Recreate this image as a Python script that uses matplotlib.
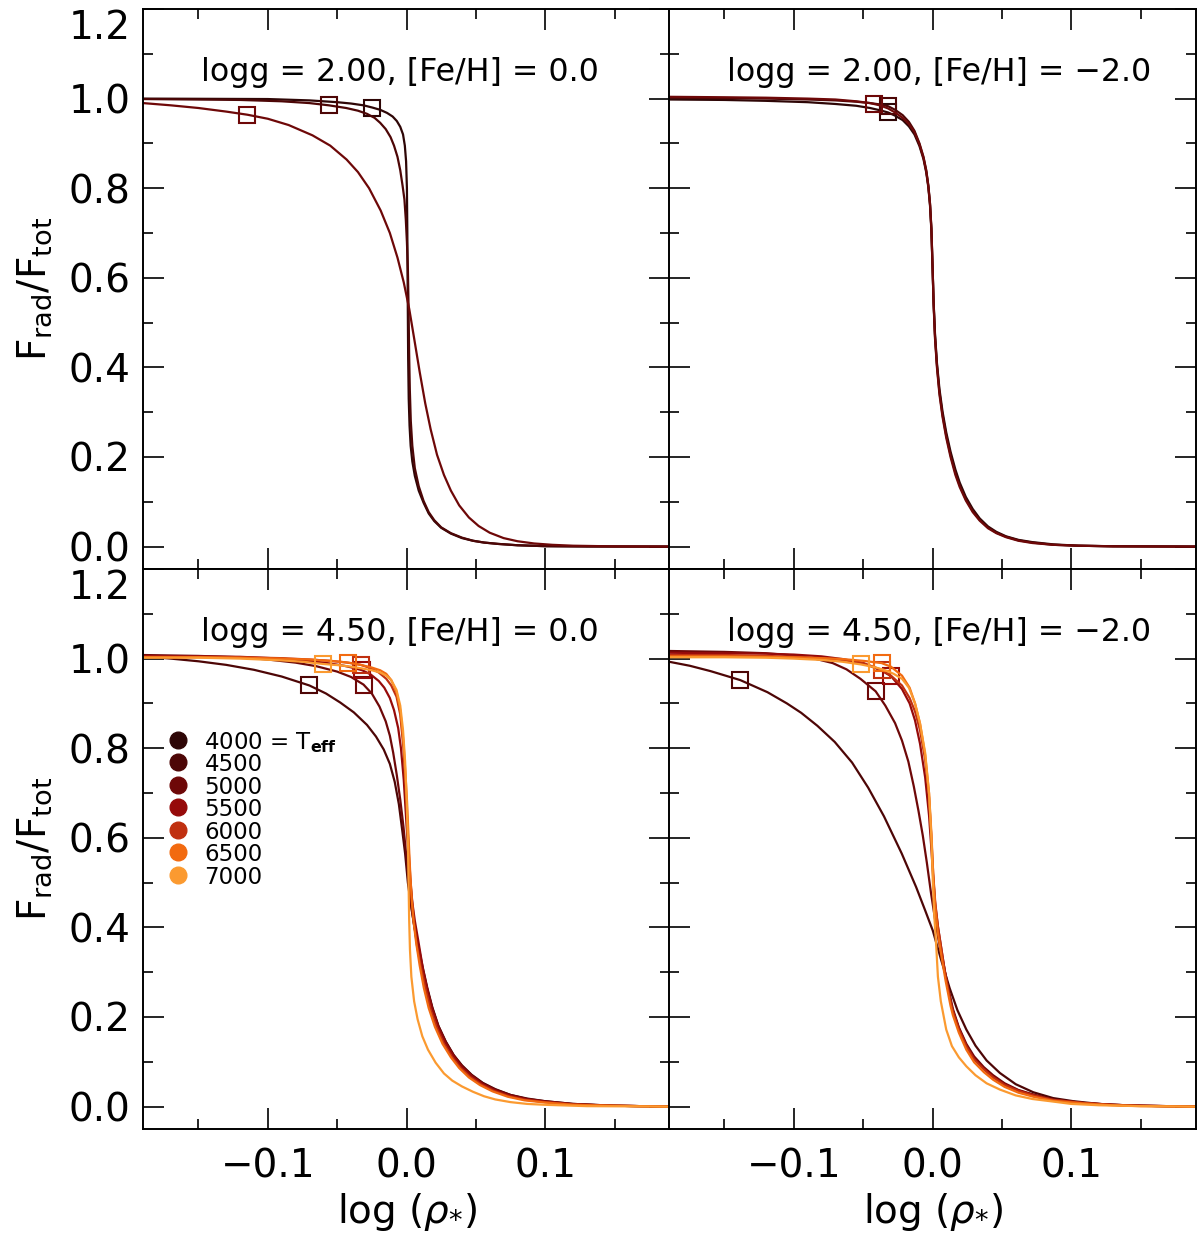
import numpy as np
import matplotlib.pyplot as plt
from matplotlib.ticker import MultipleLocator

plt.rcParams['font.family'] = ['DejaVu Sans']

FS = 28

teff = ['4000', '4500', '5000', '5500', '6000', '6500', '7000']
teff_col = ['#2e0606', '#4d0606', '#6e0808', '#960a0a', '#c03010', '#f26a10', '#fb9a30']

titles = ['logg = 2.00, [Fe/H] = 0.0', 'logg = 2.00, [Fe/H] = \u22122.0',
          'logg = 4.50, [Fe/H] = 0.0', 'logg = 4.50, [Fe/H] = \u22122.0']

# ---- top left: logg 2.00, [Fe/H] 0.0
tl_x_4000 = [-0.19, -0.10, -0.07, -0.05, -0.04, -0.031, -0.0246, -0.019, -0.014, -0.010, -0.007,
             -0.0045, -0.0025, -0.0012, -0.0003, 0.0003, 0.0006, 0.0009, 0.0012, 0.0016, 0.0022,
             0.0030, 0.0042, 0.006, 0.0088, 0.0123, 0.016, 0.020, 0.025, 0.032, 0.040, 0.048,
             0.056, 0.066, 0.080, 0.10, 0.13, 0.19]
tl_y_4000 = [1.000, 0.999, 0.996, 0.992, 0.989, 0.985, 0.980, 0.975, 0.968, 0.960, 0.950,
             0.937, 0.920, 0.895, 0.86, 0.80, 0.70, 0.55, 0.42, 0.33, 0.27,
             0.225, 0.19, 0.158, 0.125, 0.098, 0.074, 0.057, 0.042, 0.029, 0.019, 0.013,
             0.009, 0.006, 0.003, 0.001, 0.0003, 0.0]
tl_m_4000 = (-0.0246, 0.980)

tl_x_4500 = [-0.19, -0.12, -0.09, -0.07, -0.056, -0.0435, -0.035, -0.0285, -0.023, -0.019, -0.015,
             -0.0115, -0.009, -0.0065, -0.0045, -0.0028, -0.0015, -0.0005, 0.0003, 0.001, 0.0015,
             0.0019, 0.0024, 0.0031, 0.0042, 0.006, 0.0088, 0.0123, 0.016, 0.020, 0.025, 0.032,
             0.040, 0.048, 0.056, 0.066, 0.080, 0.10, 0.13, 0.19]
tl_y_4500 = [0.999, 0.997, 0.994, 0.990, 0.985, 0.979, 0.973, 0.966, 0.957, 0.946, 0.932,
             0.914, 0.895, 0.870, 0.840, 0.805, 0.775, 0.73, 0.68, 0.62, 0.53,
             0.43, 0.35, 0.28, 0.225, 0.175, 0.135, 0.102, 0.077, 0.059, 0.043, 0.030,
             0.020, 0.013, 0.009, 0.006, 0.003, 0.001, 0.0003, 0.0]
tl_m_4500 = (-0.056, 0.985)

tl_x_5000 = [-0.19, -0.17, -0.15, -0.13, -0.1147, -0.10, -0.085, -0.0678, -0.055, -0.0432, -0.035,
             -0.027, -0.0186, -0.012, -0.0065, -0.002, 0.002, 0.0055, 0.0095, 0.0135, 0.0174,
             0.022, 0.027, 0.032, 0.038, 0.045, 0.052, 0.060, 0.070, 0.080, 0.092, 0.105, 0.12,
             0.15, 0.19]
tl_y_5000 = [0.990, 0.985, 0.979, 0.971, 0.964, 0.955, 0.941, 0.918, 0.895, 0.864, 0.836,
             0.800, 0.750, 0.700, 0.645, 0.590, 0.530, 0.465, 0.390, 0.320, 0.262,
             0.205, 0.160, 0.125, 0.092, 0.065, 0.046, 0.031, 0.019, 0.012, 0.007, 0.004, 0.002,
             0.0005, 0.0]
tl_m_5000 = (-0.1147, 0.964)

# ---- top right: logg 2.00, [Fe/H] -2.0
tr_x = [-0.19, -0.15, -0.12, -0.09, -0.07, -0.055, -0.045, -0.038, -0.032, -0.027, -0.0215,
        -0.017, -0.013, -0.0094, -0.0065, -0.0045, -0.0030, -0.0018, -0.0008, 0.0, 0.0008,
        0.0018, 0.0032, 0.005, 0.0072, 0.0099, 0.013, 0.0165, 0.0196, 0.024, 0.029, 0.034,
        0.040, 0.046, 0.053, 0.062, 0.072, 0.087, 0.105, 0.13, 0.19]
tr_y_4000 = [0.998, 0.997, 0.995, 0.992, 0.988, 0.984, 0.979, 0.974, 0.969, 0.962, 0.952,
             0.938, 0.920, 0.894, 0.865, 0.835, 0.802, 0.762, 0.705, 0.625, 0.545,
             0.475, 0.41, 0.352, 0.302, 0.255, 0.212, 0.172, 0.143, 0.111, 0.084, 0.063,
             0.045, 0.033, 0.023, 0.015, 0.010, 0.005, 0.002, 0.0008, 0.0]
tr_y_4500 = [1.002, 1.001, 1.000, 0.998, 0.996, 0.993, 0.990, 0.987, 0.983, 0.975, 0.963,
             0.948, 0.928, 0.900, 0.870, 0.840, 0.806, 0.766, 0.71, 0.63, 0.545,
             0.47, 0.405, 0.345, 0.295, 0.248, 0.205, 0.165, 0.137, 0.106, 0.080, 0.060,
             0.043, 0.031, 0.022, 0.014, 0.009, 0.004, 0.002, 0.0007, 0.0]
tr_y_5000 = [1.004, 1.003, 1.002, 1.000, 0.998, 0.994, 0.990, 0.985, 0.978, 0.969, 0.957,
             0.943, 0.925, 0.898, 0.868, 0.838, 0.805, 0.765, 0.71, 0.63, 0.54,
             0.465, 0.40, 0.34, 0.29, 0.243, 0.200, 0.160, 0.133, 0.103, 0.077, 0.058,
             0.041, 0.030, 0.021, 0.013, 0.008, 0.004, 0.002, 0.0006, 0.0]
tr_m_4000 = (-0.032, 0.969)
tr_m_4500 = (-0.032, 0.983)
tr_m_5000 = (-0.042, 0.988)

# ---- bottom left: logg 4.50, [Fe/H] 0.0
bl_x_4500 = [-0.19, -0.17, -0.15, -0.13, -0.11, -0.09, -0.07, -0.058, -0.0478, -0.038, -0.0285,
             -0.022, -0.0164, -0.012, -0.0085, -0.0055, -0.003, -0.001, 0.001, 0.003, 0.0055,
             0.0085, 0.0114, 0.015, 0.0186, 0.023, 0.0283, 0.034, 0.040, 0.047, 0.055, 0.064,
             0.075, 0.087, 0.10, 0.12, 0.149, 0.19]
bl_y_4500 = [1.005, 1.000, 0.994, 0.986, 0.975, 0.960, 0.940, 0.922, 0.902, 0.880, 0.852,
             0.826, 0.797, 0.765, 0.725, 0.675, 0.615, 0.565, 0.50, 0.455, 0.405,
             0.36, 0.315, 0.265, 0.222, 0.180, 0.145, 0.115, 0.092, 0.071, 0.053, 0.039,
             0.026, 0.018, 0.012, 0.006, 0.002, 0.0]
bl_m_4500 = (-0.070, 0.940)

bl_x_5000 = [-0.19, -0.15, -0.12, -0.10, -0.08, -0.065, -0.05, -0.04, -0.031, -0.025, -0.0195,
             -0.015, -0.012, -0.0096, -0.007, -0.0045, -0.0022, 0.0, 0.0015, 0.0035, 0.0065,
             0.0095, 0.013, 0.0186, 0.023, 0.0283, 0.034, 0.040, 0.047, 0.055, 0.064, 0.075,
             0.087, 0.10, 0.12, 0.149, 0.19]
bl_y_5000 = [1.008, 1.006, 1.003, 0.998, 0.991, 0.983, 0.971, 0.959, 0.942, 0.922, 0.893,
             0.860, 0.828, 0.790, 0.740, 0.685, 0.625, 0.555, 0.50, 0.445, 0.385,
             0.335, 0.285, 0.220, 0.180, 0.145, 0.115, 0.091, 0.070, 0.052, 0.038, 0.026,
             0.017, 0.012, 0.006, 0.002, 0.0]
bl_m_5000 = (-0.031, 0.942)

bl_x_5500 = [-0.19, -0.15, -0.12, -0.09, -0.07, -0.055, -0.045, -0.038, -0.032, -0.026, -0.020,
             -0.016, -0.012, -0.009, -0.006, -0.004, -0.002, -0.0005, 0.001, 0.0025, 0.004,
             0.006, 0.0085, 0.012, 0.0155, 0.0186, 0.023, 0.028, 0.034, 0.040, 0.047, 0.055,
             0.064, 0.075, 0.087, 0.10, 0.12, 0.149, 0.19]
bl_y_5500 = [1.006, 1.005, 1.004, 1.000, 0.995, 0.989, 0.984, 0.979, 0.974, 0.965, 0.950,
             0.935, 0.912, 0.885, 0.845, 0.80, 0.73, 0.655, 0.58, 0.51, 0.46,
             0.415, 0.37, 0.305, 0.255, 0.217, 0.176, 0.142, 0.112, 0.088, 0.068, 0.050,
             0.036, 0.024, 0.016, 0.011, 0.005, 0.002, 0.0]
bl_m_5500 = (-0.032, 0.974)

bl_x_6000 = [-0.19, -0.15, -0.12, -0.09, -0.07, -0.055, -0.045, -0.038, -0.033, -0.026, -0.020,
             -0.0146, -0.011, -0.0072, -0.0045, -0.0022, -0.0008, 0.0005, 0.0018, 0.003, 0.0042,
             0.0055, 0.0075, 0.0105, 0.014, 0.0175, 0.022, 0.027, 0.033, 0.039, 0.046, 0.054,
             0.063, 0.074, 0.086, 0.10, 0.12, 0.149, 0.19]
bl_y_6000 = [1.004, 1.004, 1.003, 1.001, 0.998, 0.995, 0.992, 0.989, 0.986, 0.979, 0.969,
             0.955, 0.940, 0.915, 0.875, 0.80, 0.72, 0.64, 0.56, 0.50, 0.455,
             0.41, 0.36, 0.31, 0.26, 0.215, 0.175, 0.14, 0.11, 0.086, 0.066, 0.049,
             0.035, 0.023, 0.015, 0.010, 0.005, 0.002, 0.0]
bl_m_6000 = (-0.033, 0.986)

bl_x_6500 = [-0.19, -0.15, -0.12, -0.09, -0.07, -0.055, -0.042, -0.033, -0.025, -0.019, -0.0146,
             -0.011, -0.0072, -0.0045, -0.0022, -0.0008, 0.0004, 0.0015, 0.0027, 0.0038, 0.005,
             0.007, 0.0095, 0.0125, 0.016, 0.0205, 0.026, 0.032, 0.038, 0.045, 0.053, 0.062,
             0.073, 0.085, 0.10, 0.12, 0.149, 0.19]
bl_y_6500 = [1.003, 1.003, 1.002, 1.000, 0.998, 0.995, 0.991, 0.986, 0.980, 0.974, 0.966,
             0.952, 0.925, 0.885, 0.815, 0.745, 0.68, 0.60, 0.52, 0.46, 0.415,
             0.365, 0.315, 0.265, 0.22, 0.178, 0.14, 0.11, 0.086, 0.065, 0.048, 0.034,
             0.022, 0.014, 0.009, 0.004, 0.002, 0.0]
bl_m_6500 = (-0.042, 0.991)

bl_x_7000 = [-0.19, -0.15, -0.12, -0.09, -0.075, -0.060, -0.048, -0.040, -0.032, -0.025, -0.019,
             -0.0146, -0.011, -0.0072, -0.0045, -0.0025, -0.001, 0.0002, 0.0010, 0.0015, 0.0019,
             0.0025, 0.0035, 0.0055, 0.008, 0.0114, 0.0155, 0.021, 0.027, 0.033, 0.040, 0.048,
             0.056, 0.064, 0.075, 0.087, 0.10, 0.13, 0.19]
bl_y_7000 = [1.002, 1.002, 1.000, 0.996, 0.993, 0.988, 0.985, 0.982, 0.978, 0.974, 0.969,
             0.962, 0.952, 0.930, 0.895, 0.84, 0.77, 0.68, 0.59, 0.50, 0.42,
             0.35, 0.29, 0.235, 0.195, 0.157, 0.127, 0.098, 0.074, 0.058, 0.045, 0.033,
             0.023, 0.016, 0.010, 0.006, 0.004, 0.001, 0.0]
bl_m_7000 = (-0.060, 0.988)

# ---- bottom right: logg 4.50, [Fe/H] -2.0
br_x_4500 = [-0.19, -0.175, -0.16, -0.1386, -0.119, -0.105, -0.0947, -0.083, -0.0705, -0.058,
             -0.0464, -0.035, -0.0222, -0.0118, -0.0053, 0.0002, 0.006, 0.0123, 0.018, 0.0244,
             0.031, 0.039, 0.0486, 0.060, 0.0727, 0.087, 0.1017, 0.12, 0.145, 0.19]
br_y_4500 = [0.993, 0.984, 0.972, 0.952, 0.925, 0.900, 0.879, 0.850, 0.814, 0.768,
             0.712, 0.648, 0.565, 0.490, 0.438, 0.393, 0.33, 0.265, 0.215, 0.172,
             0.136, 0.103, 0.075, 0.050, 0.032, 0.019, 0.012, 0.006, 0.002, 0.0]
br_m_4500 = (-0.1386, 0.952)

br_x_5000 = [-0.19, -0.15, -0.12, -0.10, -0.085, -0.072, -0.062, -0.052, -0.041, -0.034, -0.027,
             -0.022, -0.0174, -0.0135, -0.0101, -0.007, -0.0041, -0.001, 0.002, 0.0045, 0.0075,
             0.011, 0.0147, 0.019, 0.0244, 0.030, 0.037, 0.0437, 0.052, 0.062, 0.0727, 0.087,
             0.109, 0.13, 0.15, 0.19]
br_y_5000 = [1.017, 1.015, 1.012, 1.007, 1.000, 0.990, 0.976, 0.955, 0.927, 0.895, 0.856,
             0.817, 0.770, 0.715, 0.660, 0.605, 0.545, 0.475, 0.415, 0.37, 0.325,
             0.27, 0.218, 0.177, 0.140, 0.112, 0.088, 0.070, 0.052, 0.037, 0.027, 0.016,
             0.008, 0.004, 0.002, 0.0]
br_m_5000 = (-0.041, 0.927)

br_x = [-0.19, -0.15, -0.12, -0.10, -0.08, -0.065, -0.05, -0.0367, -0.030, -0.022, -0.0165,
        -0.0126, -0.009, -0.0053, -0.0025, -0.0008, 0.0005, 0.002, 0.004, 0.0065, 0.0095,
        0.013, 0.0147, 0.019, 0.0244, 0.030, 0.037, 0.0437, 0.052, 0.062, 0.0727, 0.087,
        0.109, 0.13, 0.15, 0.19]
br_y_5500 = [1.013, 1.012, 1.011, 1.009, 1.005, 0.999, 0.990, 0.973, 0.961, 0.932, 0.900,
             0.862, 0.810, 0.735, 0.650, 0.575, 0.51, 0.45, 0.40, 0.35, 0.29,
             0.235, 0.214, 0.175, 0.137, 0.108, 0.085, 0.067, 0.050, 0.036, 0.026, 0.015,
             0.008, 0.004, 0.002, 0.0]
br_y_6000 = [1.008, 1.008, 1.006, 1.004, 1.001, 0.997, 0.990, 0.975, 0.962, 0.940, 0.912,
             0.882, 0.840, 0.775, 0.690, 0.60, 0.52, 0.455, 0.40, 0.35, 0.29,
             0.235, 0.212, 0.172, 0.134, 0.105, 0.083, 0.065, 0.048, 0.035, 0.025, 0.015,
             0.008, 0.004, 0.002, 0.0]
br_y_6500 = [1.005, 1.005, 1.004, 1.003, 1.001, 0.999, 0.995, 0.990, 0.982, 0.962, 0.935,
             0.900, 0.855, 0.785, 0.700, 0.61, 0.52, 0.445, 0.385, 0.335, 0.28,
             0.225, 0.204, 0.165, 0.127, 0.099, 0.077, 0.060, 0.044, 0.031, 0.022, 0.013,
             0.007, 0.003, 0.001, 0.0]
br_m_5500 = (-0.030, 0.961)
br_m_6000 = (-0.0367, 0.975)
br_m_6500 = (-0.0367, 0.990)

br_x_7000 = [-0.19, -0.15, -0.12, -0.10, -0.08, -0.065, -0.0517, -0.042, -0.035, -0.028, -0.022,
             -0.017, -0.0126, -0.009, -0.0053, -0.0025, -0.0008, 0.0002, 0.0012, 0.0027, 0.0039,
             0.006, 0.0099, 0.014, 0.019, 0.0244, 0.031, 0.039, 0.0486, 0.060, 0.072, 0.085,
             0.10, 0.12, 0.15, 0.19]
br_y_7000 = [1.003, 1.003, 1.002, 1.000, 0.997, 0.993, 0.987, 0.981, 0.975, 0.966, 0.955,
             0.935, 0.900, 0.855, 0.790, 0.70, 0.60, 0.507, 0.43, 0.358, 0.29,
             0.235, 0.172, 0.135, 0.110, 0.090, 0.070, 0.052, 0.038, 0.025, 0.017, 0.012,
             0.006, 0.003, 0.001, 0.0]
br_m_7000 = (-0.0517, 0.987)

panels = [
    [('4000', tl_x_4000, tl_y_4000, tl_m_4000),
     ('4500', tl_x_4500, tl_y_4500, tl_m_4500),
     ('5000', tl_x_5000, tl_y_5000, tl_m_5000)],
    [('4000', tr_x, tr_y_4000, tr_m_4000),
     ('4500', tr_x, tr_y_4500, tr_m_4500),
     ('5000', tr_x, tr_y_5000, tr_m_5000)],
    [('4500', bl_x_4500, bl_y_4500, bl_m_4500),
     ('5000', bl_x_5000, bl_y_5000, bl_m_5000),
     ('5500', bl_x_5500, bl_y_5500, bl_m_5500),
     ('6000', bl_x_6000, bl_y_6000, bl_m_6000),
     ('6500', bl_x_6500, bl_y_6500, bl_m_6500),
     ('7000', bl_x_7000, bl_y_7000, bl_m_7000)],
    [('4500', br_x_4500, br_y_4500, br_m_4500),
     ('5000', br_x_5000, br_y_5000, br_m_5000),
     ('5500', br_x, br_y_5500, br_m_5500),
     ('6000', br_x, br_y_6000, br_m_6000),
     ('6500', br_x, br_y_6500, br_m_6500),
     ('7000', br_x_7000, br_y_7000, br_m_7000)],
]

fig = plt.figure(figsize=(12, 12.48), dpi=100)
W, H = 1200., 1248.
lefts = [143 / W, 669 / W]
bottoms = [1 - 569 / H, 1 - 1129 / H]
pw, ph = 527 / W, 560 / H

axes = []
for r in range(2):
    for c in range(2):
        ax = fig.add_axes([lefts[c], bottoms[r], pw, ph])
        axes.append(ax)

for i, ax in enumerate(axes):
    r, c = divmod(i, 2)
    for name, xs, ys, mk in panels[i]:
        col = teff_col[teff.index(name)]
        ax.plot(xs, ys, color=col, lw=1.6)
        ax.plot([mk[0]], [mk[1]], marker='s', ms=11, mfc='none', mec=col, mew=1.5)

    ax.set_xlim(-0.19, 0.19)
    ax.set_ylim(-0.05, 1.2)
    ax.xaxis.set_major_locator(MultipleLocator(0.1))
    ax.xaxis.set_minor_locator(MultipleLocator(0.05))
    ax.yaxis.set_major_locator(MultipleLocator(0.2))
    ax.yaxis.set_minor_locator(MultipleLocator(0.1))
    ax.tick_params(which='both', direction='in', top=True, right=True, width=1.2)
    ax.tick_params(which='major', length=15, labelsize=FS)
    ax.tick_params(which='minor', length=7.5)
    ax.tick_params(axis='x', pad=13)
    ax.tick_params(axis='y', pad=9)
    for s in ax.spines.values():
        s.set_linewidth(1.4)

    if r == 1:
        ax.set_xticks([-0.1, 0.0, 0.1])
        ax.set_xticklabels(['\u22120.1', '0.0', '0.1'])
        ax.set_xlabel(r'log ($\rho_{*}$)', fontsize=FS, labelpad=4)
    else:
        ax.set_xticklabels([])
    if c == 0:
        yt = np.arange(0, 1.21, 0.2)
        ax.set_yticks(yt)
        labs = ax.set_yticklabels(['%.1f' % v for v in yt])
        labs[-1].set_va('top')
    else:
        ax.set_yticklabels([])

    ax.text(-0.148, 1.058, titles[i], fontsize=22.8, ha='left', va='center')

for yc in [1 - 289 / H, 1 - 849 / H]:
    fig.text(35 / W, yc, r'F$_{\rm rad}$/F$_{\rm tot}$', rotation=90, fontsize=FS,
             ha='center', va='center')

# Teff key in lower left panel
ax = axes[2]
for k, (name, col) in enumerate(zip(teff, teff_col)):
    yk = 0.819 - k * 0.0502
    ax.plot([-0.165], [yk], marker='o', ms=12, color=col, mec=col)
    lab = name + r' = T$_{\bf eff}$' if k == 0 else name
    ax.text(-0.1457, yk, lab, fontsize=16.5, ha='left', va='center_baseline')

fig.savefig('out.png', dpi=100)
